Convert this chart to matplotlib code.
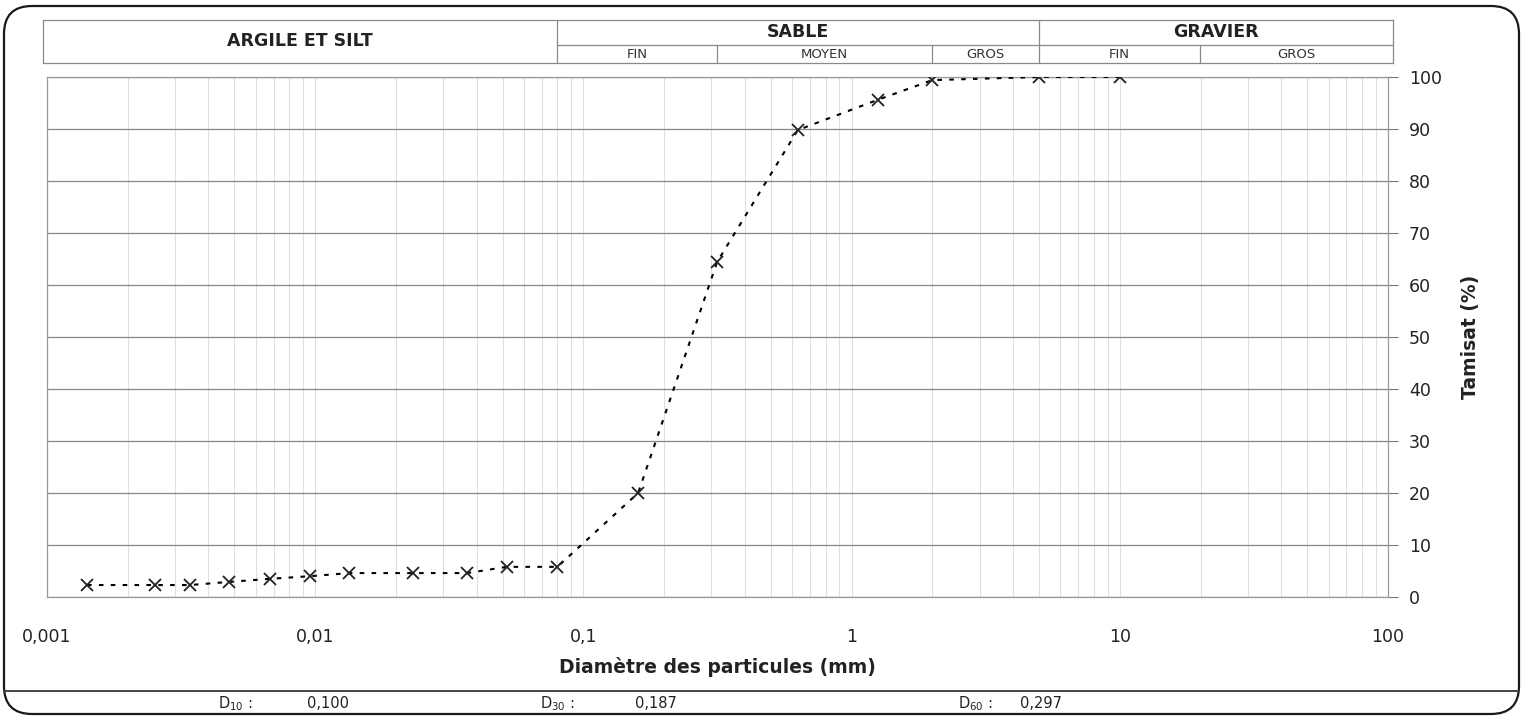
import matplotlib.pyplot as plt
import matplotlib.patches as mpatches
import matplotlib.transforms as mtransforms
import numpy as np
from matplotlib.ticker import FixedLocator, LogLocator, NullFormatter

### DATA ###
diam = [0.00141, 0.00253, 0.00341, 0.00477, 0.00679, 0.00957, 0.0134, 0.0232,
        0.0368, 0.0519, 0.08, 0.16, 0.315, 0.63, 1.25, 2.0, 5.0, 10.0]
tamisat = [2.3, 2.3, 2.3, 2.9, 3.5, 4.0, 4.6, 4.6, 4.6, 5.8, 5.8, 20.0, 64.4,
           89.8, 95.6, 99.4, 100.0, 100.0]
x_ticks = [0.001, 0.01, 0.1, 1, 10, 100]
x_labels = ['0,001', '0,01', '0,1', '1', '10', '100']
y_ticks = list(range(0, 101, 10))

# classes granulometriques (limites en mm)
lim_sable = 0.08
lim_gravier = 5.0
sous_limites = [0.315, 2.0, 20.0]
sous_classes = [('FIN', 0.08, 0.315), ('MOYEN', 0.315, 2.0), ('GROS', 2.0, 5.0),
                ('FIN', 5.0, 20.0), ('GROS', 20.0, 100.0)]
d_labels = ['D$_{10}$ :', 'D$_{30}$ :', 'D$_{60}$ :']
d_values = ['0,100', '0,187', '0,297']

W, H = 1523, 717
fig = plt.figure(figsize=(W/100, H/100), dpi=100)

def fbox(x0, y0, x1, y1):
    # pixel box (origin top-left) -> figure fraction
    return [x0/W, 1-y1/H, (x1-x0)/W, (y1-y0)/H]

### PLOT ###
ax = fig.add_axes(fbox(47, 77, 1388, 597))
ax.set_xscale('log')
ax.set_xlim(0.001, 100)
ax.set_ylim(0, 100)
ax.plot(diam, tamisat, color='black', linestyle=(0, (2.2, 3.5)), lw=1.5,
        marker='x', markersize=9, mew=1.3, mec='#222222', zorder=3)

ax.xaxis.set_major_locator(FixedLocator(x_ticks))
ax.set_xticklabels(x_labels)
ax.xaxis.set_minor_locator(LogLocator(base=10, subs=np.arange(2, 10)))
ax.xaxis.set_minor_formatter(NullFormatter())
ax.set_yticks(y_ticks)
ax.yaxis.tick_right()
ax.tick_params(axis='x', which='both', length=0, pad=22, labelsize=12.5, labelcolor='#222222')
ax.tick_params(axis='y', length=7, width=0.8, color='#777777', pad=8,
               labelsize=12.5, labelcolor='#222222')
ax.grid(axis='y', color='#858585', lw=0.9)
ax.grid(axis='x', which='both', color='#dcdfe4', lw=0.8)
for s in ax.spines.values():
    s.set_color('#9a9a9a')
    s.set_linewidth(0.9)
ax.set_xlabel('Diamètre des particules (mm)', fontsize=13.5, fontweight='bold',
              labelpad=8, color='#222222')
ax.yaxis.set_label_position('right')
ax.set_ylabel('Tamisat (%)', fontsize=13.5, fontweight='bold', labelpad=14, color='#222222')

### EN-TETE ###
hx = fig.add_axes(fbox(43, 20, 1393, 63))
hx.set_xscale('log')
hx.set_xlim(10**-3.015, 10**2.019)
hx.set_ylim(0, 1)
hx.set_xticks([])
hx.set_yticks([])
hx.minorticks_off()
for s in hx.spines.values():
    s.set_color('#8a8a8a')
    s.set_linewidth(0.9)
lc = '#8a8a8a'
ysplit = 0.42
hx.plot([lim_sable, 10**2.019], [ysplit, ysplit], color=lc, lw=0.9)
for v in [lim_sable, lim_gravier]:
    hx.plot([v, v], [0, 1], color=lc, lw=0.9)
for v in sous_limites:
    hx.plot([v, v], [0, ysplit], color=lc, lw=0.9)
xmid = lambda a, b: np.sqrt(a*b)
hx.text(xmid(10**-3.015, lim_sable), 0.5, 'ARGILE ET SILT', ha='center', va='center',
        fontsize=12.5, fontweight='bold', color='#222222')
hx.text(xmid(lim_sable, lim_gravier), 0.71, 'SABLE', ha='center', va='center',
        fontsize=12.5, fontweight='bold', color='#222222')
hx.text(xmid(lim_gravier, 10**2.019), 0.71, 'GRAVIER', ha='center', va='center',
        fontsize=12.5, fontweight='bold', color='#222222')
for nom, a, b in sous_classes:
    if b == 100.0:
        b = 10**2.019
    hx.text(xmid(a, b), 0.2, nom, ha='center', va='center', fontsize=9.5, color='#333333')

### CADRE ###
ident = mtransforms.IdentityTransform()
cadre = mpatches.FancyBboxPatch((4, 3), 1515, 708, boxstyle='round,pad=0,rounding_size=28',
                                transform=ident, fill=False, ec='#1a1a1a', lw=1.6)
fig.patches.append(cadre)
fig.add_artist(plt.Line2D([4/W, 1519/W], [1-691/H, 1-691/H], color='#444444', lw=1.4))
for lab, val, x0, x1 in zip(d_labels, d_values, [218, 540, 958], [307, 635, 1020]):
    fig.text(x0/W, 1-704/H, lab, fontsize=10.5, va='center', color='#222222')
    fig.text(x1/W, 1-704/H, val, fontsize=10.5, va='center', color='#222222')

fig.savefig('out.png', dpi=100)
